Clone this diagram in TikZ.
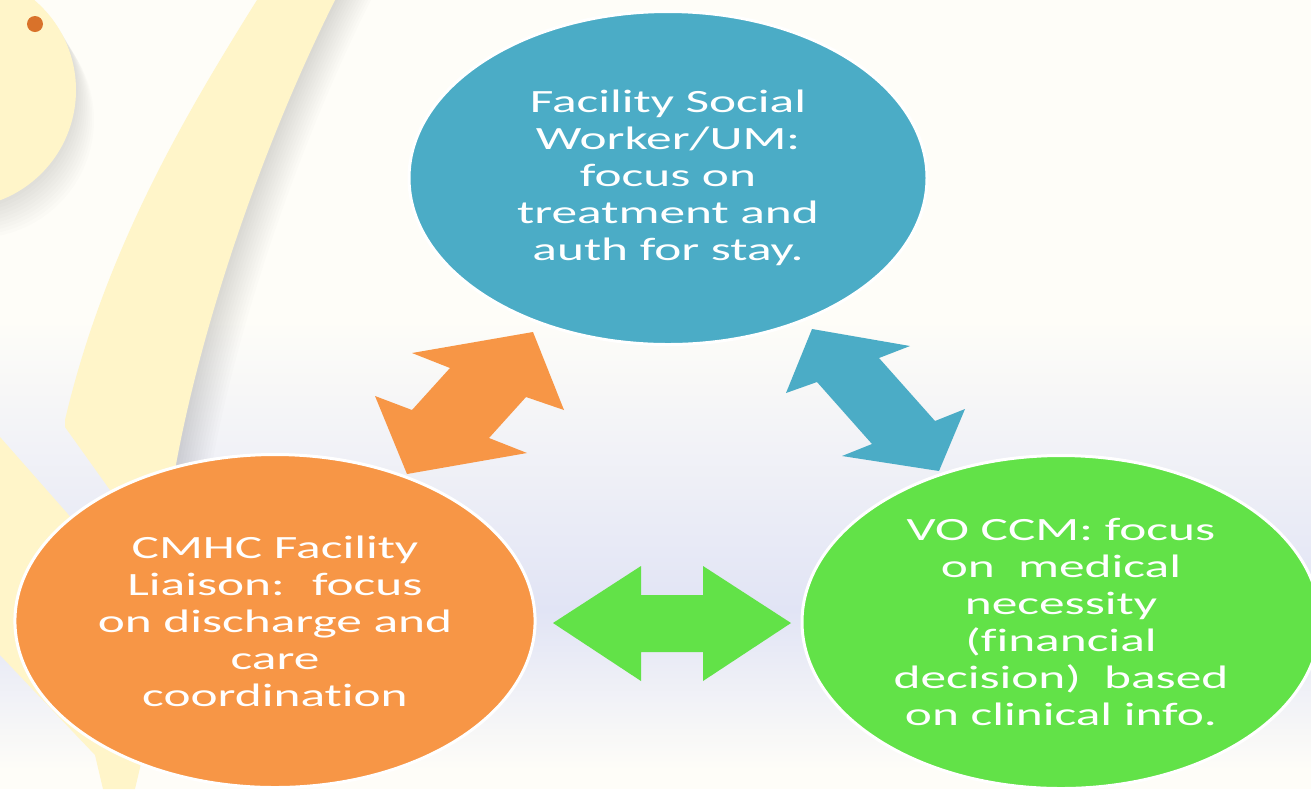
\documentclass[tikz,border=0pt]{standalone}
\usepackage{fontspec}
\newfontfamily\slidefont[FakeStretch=1.58, Ligatures={NoCommon}]{Carlito}
\usetikzlibrary{shapes.geometric}

\definecolor{cream}{HTML}{FEFDF8}
\definecolor{lavender}{HTML}{E1E4F5}
\definecolor{paleyellow}{HTML}{FFF5C9}
\definecolor{dotorange}{HTML}{D9722A}
\definecolor{umblue}{HTML}{4BACC6}
\definecolor{cmhcorange}{HTML}{F79646}
\definecolor{ccmgreen}{HTML}{62E248}

\tikzset{
	role/.style={ellipse, draw=white, line width=1.5pt, minimum width=259pt, minimum height=166.5pt,
		text=white, align=center, font=\slidefont\fontsize{16.25}{18.5}\selectfont},
	softshade/.style={black, opacity=0.01},
}

\begin{document}
\begin{tikzpicture}[x=0.5pt,y=-0.5pt]
	\useasboundingbox (0,0) rectangle (1311,789);

	%background
	\fill[cream] (0,0) rectangle (1311,789);
	\shade[top color=cream, bottom color=lavender] (0,320) rectangle (1311,610);
	\shade[top color=lavender, bottom color=cream] (0,610) rectangle (1311,770);

	%shadows of the yellow shapes
	\foreach \s in {3,6,...,36}
		\fill[softshade, xshift=\s*0.5pt] (257,0) .. controls (185,115) and (105,250) .. (65,420) -- (65,427) -- (160,560) -- (175,470) .. controls (200,330) and (260,150) .. (335,0) -- cycle; %band shadow
	\foreach \s in {3,6,...,30}
		\fill[softshade] ({-42+0.6*\s},{90+\s}) circle[radius=118]; %circle shadow

	%yellow shapes
	\fill[paleyellow] (-42,90) circle[radius=118]; %top left circle
	\fill[paleyellow] (257,0) .. controls (185,115) and (105,250) .. (65,420) -- (65,427) -- (160,560) -- (175,470) .. controls (200,330) and (260,150) .. (335,0) -- cycle; %upper band
	\fill[paleyellow] (0,437) -- (67,513) -- (170,640) -- (135,789) -- (103,789) -- (95,755) -- (0,655) -- cycle; %lower band
	\fill[dotorange] (35,24) circle[radius=8]; %bullet

	%arrows
	\fill[cmhcorange] (407,474) -- (375,396) -- (412,410) -- (450,368) -- (412,353) -- (533,332) -- (564,410) -- (526,397) -- (489,438) -- (527,453) -- cycle; %CMHC - UM
	\fill[umblue] (812,329) -- (910,346) -- (879,358) -- (935,421) -- (965,409) -- (939,471) -- (842,456) -- (872,444) -- (817,382) -- (786,393) -- cycle; %UM - CCM
	\fill[ccmgreen] (553,623) -- (641,566) -- (641,595) -- (703,595) -- (703,566) -- (791,623) -- (703,681) -- (703,652) -- (641,652) -- (641,681) -- cycle; %CMHC - CCM

	%roles
	\node[role, fill=umblue] (facsw) at (668,178) {Facility Social\\Worker/UM:\\focus on\\treatment and\\auth for stay.};
	\node[role, fill=cmhcorange] (cmhc) at (275,621) {CMHC Facility\\Liaison: \ focus\\on discharge and\\care\\coordination};
	\node[role, fill=ccmgreen] (vocm) at (1061,622) {VO CCM: focus\\on \ medical\\necessity\\(financial\\decision) \ based\\on clinical info.};
\end{tikzpicture}
\end{document}
